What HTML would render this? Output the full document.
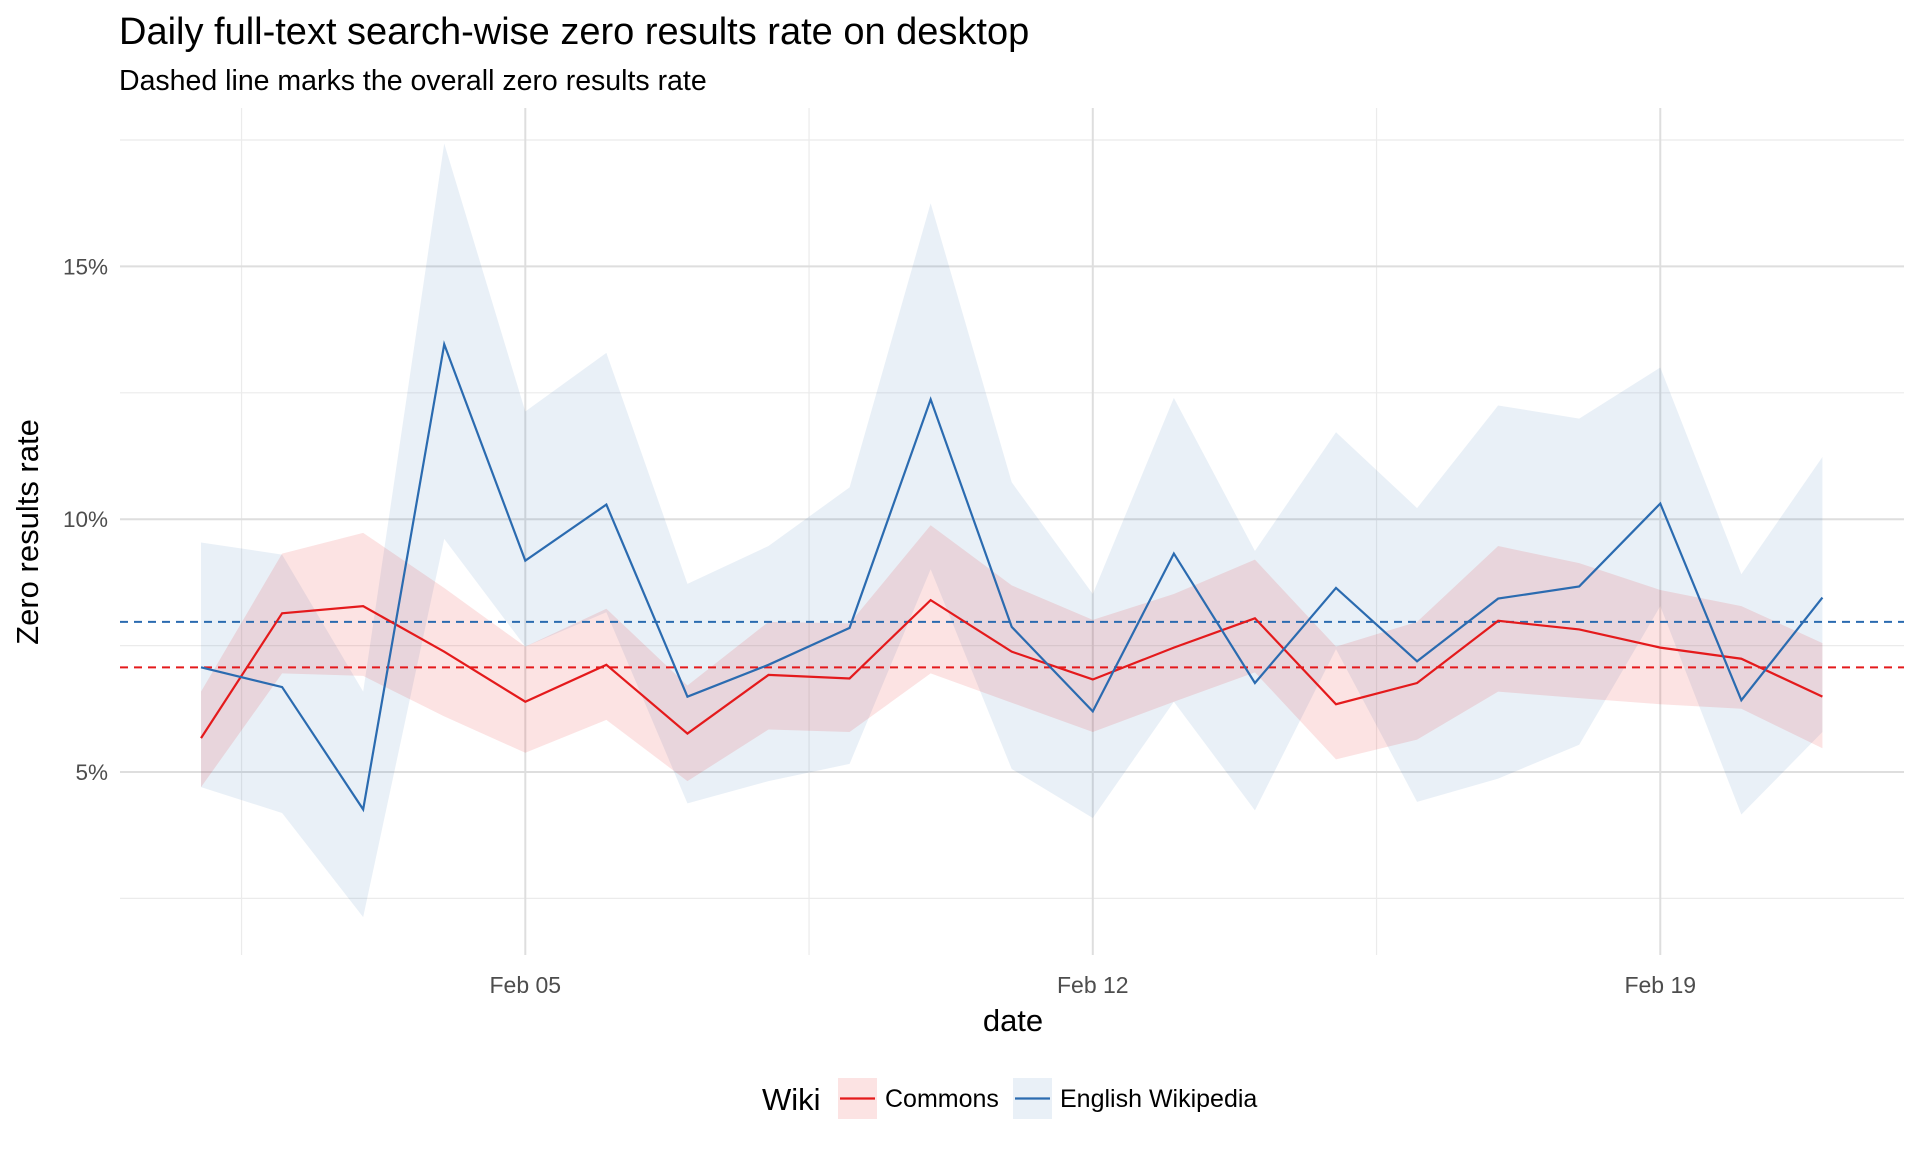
<!DOCTYPE html>
<html><head><meta charset="utf-8"><style>
body{margin:0;background:#fff;}
svg text{font-family:"Liberation Sans",Arial,sans-serif;}
</style></head><body>
<svg id="chart" width="1920" height="1152" xmlns="http://www.w3.org/2000/svg">
<rect width="1920" height="1152" fill="#fff"/>
<g id="grid"></g>
<g id="ribbons"></g>
<g id="lines"></g>
<g id="axes"></g>
<text x="119" y="44" font-size="38" fill="#000">Daily full-text search-wise zero results rate on desktop</text>
<text x="119" y="90" font-size="28.5" fill="#000">Dashed line marks the overall zero results rate</text>
<text x="1013" y="1031" font-size="31" text-anchor="middle" fill="#000">date</text>
<text transform="translate(38,532) rotate(-90)" font-size="31" text-anchor="middle" fill="#000">Zero results rate</text>
<g>
<text x="762" y="1110" font-size="31" fill="#000">Wiki</text>
<g>
<rect x="838" y="1078" width="39" height="41" fill="rgba(228,26,28,0.12)"/>
<line x1="840" x2="875" y1="1098.5" y2="1098.5" stroke="#E41A1C" stroke-width="2.2"/>
<text x="885" y="1107" font-size="25" fill="#000">Commons</text></g>
<g>
<rect x="1013" y="1078" width="39" height="41" fill="rgba(43,107,176,0.1)"/>
<line x1="1015" x2="1050" y1="1098.5" y2="1098.5" stroke="#2B6BB0" stroke-width="2.2"/>
<text x="1060" y="1107" font-size="25" fill="#000">English Wikipedia</text></g>
</g>
</svg>
<script>
const days=[1,2,3,4,5,6,7,8,9,10,11,12,13,14,15,16,17,18,19,20,21];
const commonsRate=[5.67,8.14,8.28,7.38,6.39,7.12,5.76,6.92,6.85,8.40,7.38,6.83,7.46,8.04,6.34,6.76,7.99,7.82,7.46,7.24,6.49];
const commonsUpper=[6.59,9.32,9.73,8.64,7.48,8.23,6.71,7.97,7.94,9.88,8.69,8.01,8.52,9.20,7.48,7.97,9.47,9.13,8.60,8.28,7.55];
const commonsLower=[4.70,6.95,6.90,6.10,5.38,6.03,4.82,5.84,5.79,6.95,6.37,5.79,6.39,6.97,5.25,5.64,6.59,6.46,6.34,6.25,5.47];
const enwikiRate=[7.07,6.68,4.26,13.46,9.18,10.29,6.49,7.12,7.85,12.37,7.87,6.20,9.32,6.76,8.64,7.19,8.43,8.67,10.31,6.42,8.45];
const enwikiUpper=[9.54,9.30,6.59,17.43,12.13,13.29,8.72,9.47,10.63,16.25,10.73,8.52,12.40,9.37,11.72,10.22,12.25,11.99,13.00,8.91,11.23];
const enwikiLower=[4.70,4.19,2.13,9.61,7.48,8.16,4.38,4.82,5.16,9.01,5.06,4.09,6.39,4.24,7.43,4.41,4.87,5.54,8.28,4.16,5.79];
const overallRates=[7.07,7.97];
const yTicks=[5,10,15];
const yMinor=[2.5,7.5,12.5,17.5];
const xTicks=[5,12,19];
const xTickLabels=["Feb 05","Feb 12","Feb 19"];
const xMinor=[1.5,8.5,15.5];

const NS="http://www.w3.org/2000/svg";
const X=d=>525.3+(d-5)*81.07;
const Y=p=>519.2-(p-10)*50.56;
const L=120,R=1904,T=108,B=955;
function mk(parent,tag,attrs){const e=document.createElementNS(NS,tag);for(const k in attrs)e.setAttribute(k,attrs[k]);document.getElementById(parent).appendChild(e);return e;}
yMinor.forEach(v=>{const e=mk('grid','line',{x1:L,x2:R,y1:Y(v),y2:Y(v),stroke:'#ebebeb','stroke-width':1.2});

});
xMinor.forEach(v=>{const e=mk('grid','line',{x1:X(v),x2:X(v),y1:T,y2:B,stroke:'#ebebeb','stroke-width':1.2});

});
yTicks.forEach(v=>{const e=mk('grid','line',{x1:L,x2:R,y1:Y(v),y2:Y(v),stroke:'#dedede','stroke-width':2});


const t=mk('axes','text',{x:108,y:Y(v)+8,'font-size':22.5,'text-anchor':'end',fill:'#4d4d4d'});t.textContent=v+'%';

});
xTicks.forEach((v,i)=>{const e=mk('grid','line',{x1:X(v),x2:X(v),y1:T,y2:B,stroke:'#dedede','stroke-width':2});


const t=mk('axes','text',{x:X(v),y:993,'font-size':23,'text-anchor':'middle',fill:'#4d4d4d'});t.textContent=xTickLabels[i];

});
function ribbon(up,lo,fill,name){let pts=days.map((d,i)=>X(d)+','+Y(up[i]));
for(let i=days.length-1;i>=0;i--)pts.push(X(days[i])+','+Y(lo[i]));
const e=mk('ribbons','polygon',{points:pts.join(' '),fill:fill});

}
ribbon(enwikiUpper,enwikiLower,'rgba(43,107,176,0.1)','enwiki-ribbon');
ribbon(commonsUpper,commonsLower,'rgba(228,26,28,0.12)','commons-ribbon');
function line(vals,color,name){const e=mk('lines','polyline',{points:days.map((d,i)=>X(d)+','+Y(vals[i])).join(' '),fill:'none',stroke:color,'stroke-width':2.2});

}
const cols=['#E41A1C','#2B6BB0'];
overallRates.forEach((v,i)=>{const e=mk('lines','line',{x1:L,x2:R,y1:Y(v),y2:Y(v),stroke:cols[i],'stroke-width':2,'stroke-dasharray':'8,6'});

});
line(commonsRate,cols[0],'commons-line');
line(enwikiRate,cols[1],'enwiki-line');
</script>
</body></html>
